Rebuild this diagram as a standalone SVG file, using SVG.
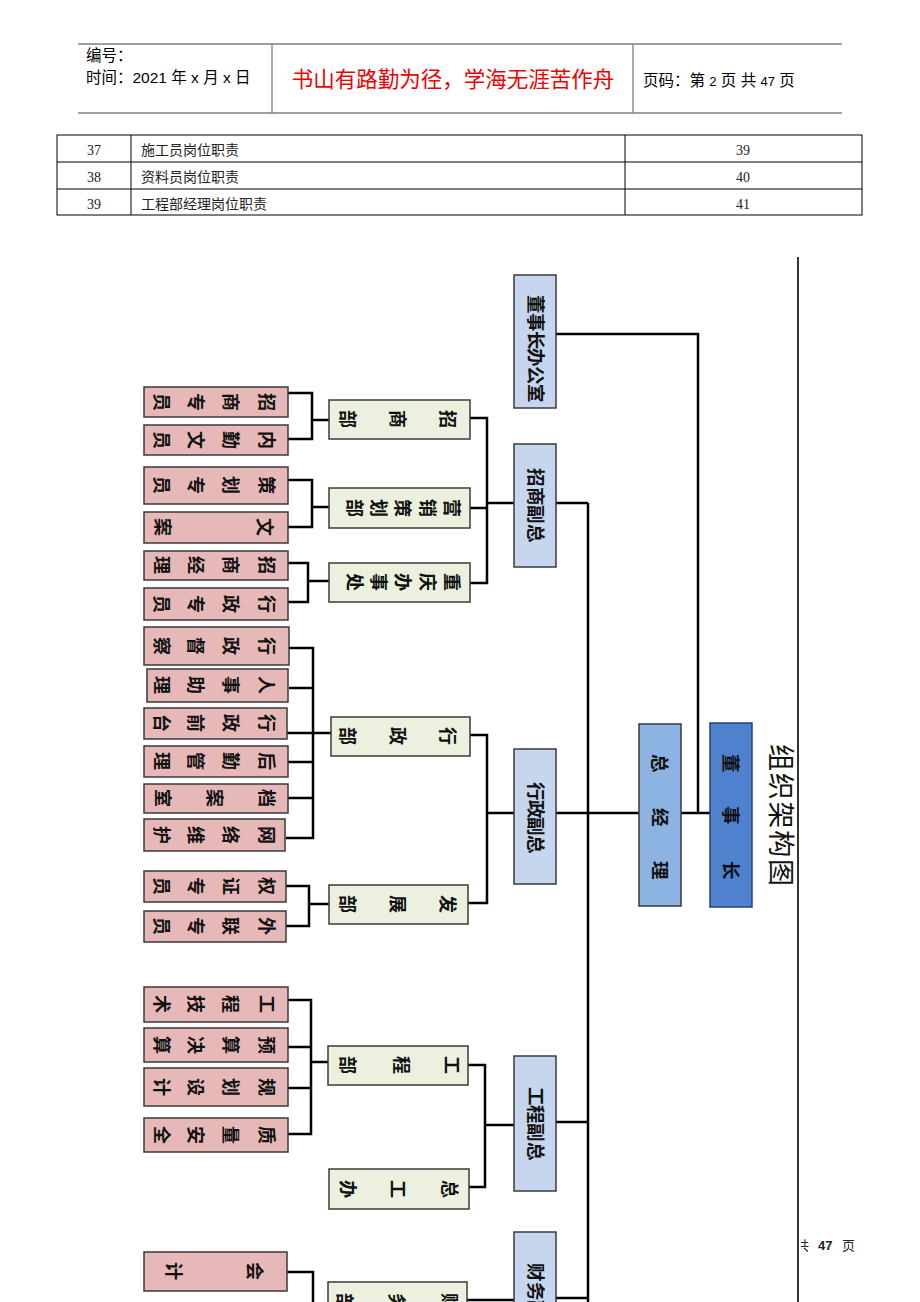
<svg xmlns="http://www.w3.org/2000/svg" width="920" height="1302" viewBox="0 0 920 1302">
<style>
.hline{stroke:#808080;stroke-width:1.3;fill:none}
.tline{stroke:#000;stroke-width:1;fill:none}
.hdr{font-family:"Liberation Sans","Noto Sans CJK SC",sans-serif;font-size:15.5px;fill:#000}
.toc{font-family:"Liberation Serif","Noto Sans CJK SC",serif;font-size:14px;fill:#222}
.leaf{fill:#e6b9b8;stroke:#3a3a3a;stroke-width:1.5}
.dept{fill:#ebf1de;stroke:#3a3a3a;stroke-width:1.5}
.vice{fill:#c6d6ee;stroke:#3a3a3a;stroke-width:1.5}
.gm{fill:#8db3e2;stroke:#3a3a3a;stroke-width:1.5}
.ceo{fill:#4f81cf;stroke:#23427a;stroke-width:1.5}
.cn{font-family:"Noto Sans CJK SC",sans-serif;font-size:18px;font-weight:600;fill:#111}
.cv{font-family:"Noto Sans CJK SC",sans-serif;font-size:18.5px;font-weight:600;fill:#111}
.conn{stroke:#000;stroke-width:2.5;fill:none;stroke-linejoin:miter}
</style>
<defs>
<clipPath id="footclip"><rect x="801" y="1230" width="119" height="30"/></clipPath>
</defs>
<rect width="920" height="1302" fill="#fff"/>

<g id="header">
<path class="hline" d="M78,44 H842 M78,113 H842 M272,44 V113 M633,44 V113"/>
<text class="hdr" x="86" y="61">编号：</text>
<text class="hdr" x="86" y="83">时间：2021 年 x 月 x 日</text>
<text x="453" y="87" text-anchor="middle" font-family="Noto Sans CJK SC, sans-serif" font-size="21.5" fill="#ee0000">书山有路勤为径，学海无涯苦作舟</text>
<text class="hdr" x="643" y="86">页码：第 <tspan font-size="13">2</tspan> 页  共 <tspan font-size="13">47</tspan> 页</text>
</g>

<g id="toc">
<rect class="tline" x="57" y="135" width="805" height="80"/>
<path class="tline" d="M57,162 H862 M57,189 H862 M131,135 V215 M625,135 V215"/>
<text class="toc" x="94" y="155" text-anchor="middle">37</text>
<text class="toc" x="141" y="155">施工员岗位职责</text>
<text class="toc" x="743" y="155" text-anchor="middle">39</text>
<text class="toc" x="94" y="182" text-anchor="middle">38</text>
<text class="toc" x="141" y="182">资料员岗位职责</text>
<text class="toc" x="743" y="182" text-anchor="middle">40</text>
<text class="toc" x="94" y="209" text-anchor="middle">39</text>
<text class="toc" x="141" y="209">工程部经理岗位职责</text>
<text class="toc" x="743" y="209" text-anchor="middle">41</text>
</g>

<g id="frame">
<path d="M798,257 V1302" stroke="#000" stroke-width="1.6" fill="none"/>
<text font-family="Noto Sans CJK SC, sans-serif" font-size="27" fill="#111" x="770.7 770.7 770.7 770.7 770.7" y="743.9 772.7 801.5 830.3 859.1" rotate="90">组织架构图</text>
<g clip-path="url(#footclip)">
<text font-family="Liberation Serif, Noto Sans CJK SC, serif" font-size="13" fill="#222" x="796" y="1250">共</text>
<text font-family="Liberation Sans, sans-serif" font-size="13" font-weight="bold" fill="#222" x="818" y="1250">47</text>
<text font-family="Liberation Serif, Noto Sans CJK SC, serif" font-size="13" fill="#222" x="842" y="1250">页</text>
</g>
</g>

<g id="connectors">
<path class="conn" d="M556,334 H698 V813 M681,813 H710"/>
<path class="conn" d="M588,503 V1302 M556,503 H588 M556,813 H639 M556,1122 H588 M556,1298 H588"/>
<path class="conn" d="M487,503 H514 M487,813 H514 M485,1125 H514 M467,1300 H514"/>
<path class="conn" d="M470,418 H487 V583 H470 M470,508 H487"/>
<path class="conn" d="M470,735 H487 V903 H468"/>
<path class="conn" d="M468,1065 H485 V1187 H469"/>
<path class="conn" d="M288,393 H312 V439 H288 M312,420 H329"/>
<path class="conn" d="M288,480 H312 V527 H288 M312,507 H329"/>
<path class="conn" d="M288,563 H308 V602 H288 M308,581 H329"/>
<path class="conn" d="M289,648 H313 V838 H286 M289,688 H313 M287,733 H331 M288,762 H313 M288,798 H313"/>
<path class="conn" d="M286,886 H309 V926 H286 M309,904 H329"/>
<path class="conn" d="M288,1000 H311 V1134 H288 M288,1047 H311 M288,1088 H311 M311,1062 H328"/>
<path class="conn" d="M287,1272 H313 V1302"/>
</g>

<g id="n_ceo"><rect class="ceo" x="710" y="723" width="42" height="184"/>
<text class="cv" x="724 724 724" y="754 806 861" rotate="90">董事长</text></g>
<g id="n_gm"><rect class="gm" x="639" y="724" width="42" height="182"/>
<text class="cv" x="653 653 653" y="754 808 861" rotate="90">总经理</text></g>

<g id="n_office"><rect class="vice" x="514" y="275" width="42" height="133"/>
<text class="cv" x="529 529 529 529 529 529" y="295 313 331 348 366 384" rotate="90">董事长办公室</text></g>
<g id="n_vp_zs"><rect class="vice" x="514" y="444" width="42" height="123"/>
<text class="cv" x="529 529 529 529" y="468 487 505 524" rotate="90">招商副总</text></g>
<g id="n_vp_xz"><rect class="vice" x="514" y="749" width="42" height="135"/>
<text class="cv" x="529 529 529 529" y="782 800 817 835" rotate="90">行政副总</text></g>
<g id="n_vp_gc"><rect class="vice" x="514" y="1056" width="42" height="135"/>
<text class="cv" x="529 529 529 529" y="1087 1105 1123 1142" rotate="90">工程副总</text></g>
<g id="n_vp_cw"><rect class="vice" x="514" y="1232" width="42" height="140"/>
<text class="cv" x="529 529 529 529" y="1263 1282 1300 1319" rotate="90">财务副总</text></g>

<g id="d_zs"><rect class="dept" x="329" y="400" width="141" height="39"/>
<text class="cn" x="441 391 341" y="410" rotate="90">招商部</text></g>
<g id="d_yx"><rect class="dept" x="329" y="488" width="141" height="40"/>
<text class="cn" x="445 421 396 372 348" y="499" rotate="90">营销策划部</text></g>
<g id="d_cq"><rect class="dept" x="329" y="563" width="141" height="39"/>
<text class="cn" x="445 421 396 372 348" y="573" rotate="90">重庆办事处</text></g>
<g id="d_xz"><rect class="dept" x="331" y="717" width="139" height="39"/>
<text class="cn" x="441 391 341" y="727" rotate="90">行政部</text></g>
<g id="d_fz"><rect class="dept" x="329" y="885" width="139" height="39"/>
<text class="cn" x="441 391 341" y="895" rotate="90">发展部</text></g>
<g id="d_gc"><rect class="dept" x="328" y="1046" width="140" height="39"/>
<text class="cn" x="445 395 341" y="1056" rotate="90">工程部</text></g>
<g id="d_zgb"><rect class="dept" x="329" y="1169" width="140" height="40"/>
<text class="cn" x="443 391 341" y="1180" rotate="90">总工办</text></g>
<g id="d_cw"><rect class="dept" x="328" y="1282" width="139" height="40"/>
<text class="cn" x="443 390 338" y="1293" rotate="90">财务部</text></g>

<g id="l1"><rect class="leaf" x="144" y="387" width="144" height="30"/>
<text class="cn" x="260 224 189 155" y="393" rotate="90">招商专员</text></g>
<g id="l2"><rect class="leaf" x="144" y="425" width="144" height="30"/>
<text class="cn" x="260 224 189 155" y="431" rotate="90">内勤文员</text></g>
<g id="l3"><rect class="leaf" x="144" y="467" width="144" height="37"/>
<text class="cn" x="260 224 189 155" y="476" rotate="90">策划专员</text></g>
<g id="l4"><rect class="leaf" x="144" y="512" width="144" height="31"/>
<text class="cn" x="258 156" y="518" rotate="90">文案</text></g>
<g id="l5"><rect class="leaf" x="144" y="551" width="144" height="29"/>
<text class="cn" x="260 224 189 155" y="556" rotate="90">招商经理</text></g>
<g id="l6"><rect class="leaf" x="144" y="588" width="144" height="32"/>
<text class="cn" x="260 224 189 155" y="595" rotate="90">行政专员</text></g>
<g id="l7"><rect class="leaf" x="144" y="627" width="145" height="38"/>
<text class="cn" x="260 224 189 155" y="637" rotate="90">行政督察</text></g>
<g id="l8"><rect class="leaf" x="147" y="669" width="141" height="33"/>
<text class="cn" x="260 224 189 155" y="676" rotate="90">人事助理</text></g>
<g id="l9"><rect class="leaf" x="144" y="708" width="143" height="31"/>
<text class="cn" x="260 224 189 155" y="714" rotate="90">行政前台</text></g>
<g id="l10"><rect class="leaf" x="144" y="746" width="144" height="31"/>
<text class="cn" x="260 224 189 155" y="752" rotate="90">后勤管理</text></g>
<g id="l11"><rect class="leaf" x="144" y="784" width="144" height="29"/>
<text class="cn" x="260 208 156" y="789" rotate="90">档案室</text></g>
<g id="l12"><rect class="leaf" x="144" y="819" width="141" height="32"/>
<text class="cn" x="260 224 189 155" y="826" rotate="90">网络维护</text></g>
<g id="l13"><rect class="leaf" x="144" y="871" width="142" height="31"/>
<text class="cn" x="260 224 189 155" y="877" rotate="90">权证专员</text></g>
<g id="l14"><rect class="leaf" x="144" y="911" width="142" height="31"/>
<text class="cn" x="260 224 189 155" y="917" rotate="90">外联专员</text></g>
<g id="l15"><rect class="leaf" x="144" y="987" width="144" height="35"/>
<text class="cn" x="260 224 189 155" y="995" rotate="90">工程技术</text></g>
<g id="l16"><rect class="leaf" x="144" y="1028" width="144" height="34"/>
<text class="cn" x="260 224 189 155" y="1036" rotate="90">预算决算</text></g>
<g id="l17"><rect class="leaf" x="144" y="1068" width="144" height="38"/>
<text class="cn" x="260 224 189 155" y="1078" rotate="90">规划设计</text></g>
<g id="l18"><rect class="leaf" x="144" y="1118" width="144" height="34"/>
<text class="cn" x="260 224 189 155" y="1126" rotate="90">质量安全</text></g>
<g id="l19"><rect class="leaf" x="144" y="1252" width="143" height="39"/>
<text class="cn" x="248 167" y="1262" rotate="90">会计</text></g>
</svg>
